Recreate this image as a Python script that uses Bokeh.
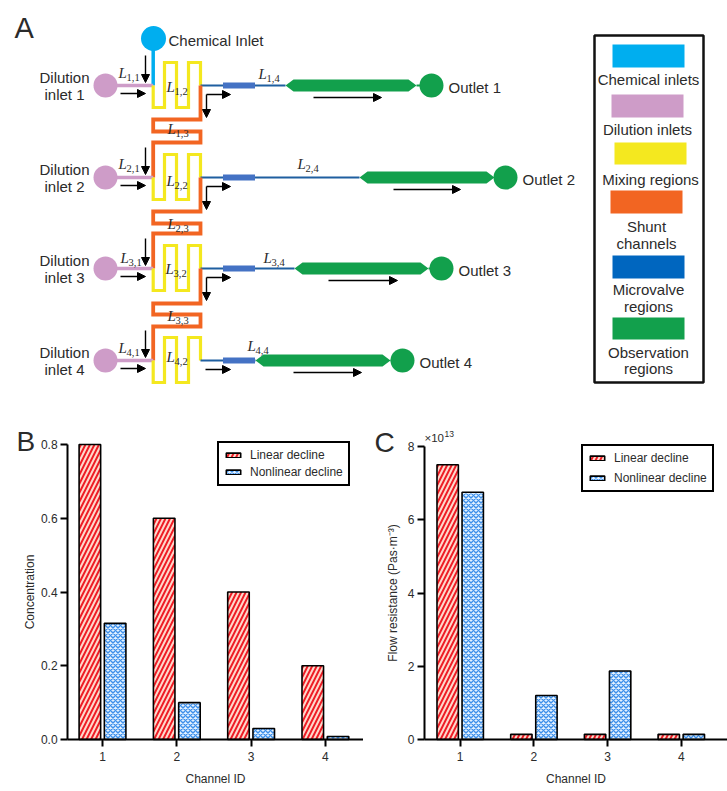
import numpy as np
from bokeh.plotting import figure
from bokeh.layouts import column, row
from bokeh.models import (Range1d, ColumnDataSource, Arrow, NormalHead, Label, Legend, LegendItem,
                          FixedTicker, NumeralTickFormatter)
from bokeh.core.properties import value
from bokeh.embed import file_html
from bokeh.resources import INLINE

FONT = "Liberation Sans"
INK = "#2b2b2b"
C_CHEM, C_DIL, C_MIX, C_SHUNT, C_LINE, C_VALVE, C_OBS = "#00AEEF", "#CE9CC8", "#F4E81F", "#F26522", "#1F5FA0", "#4472C4", "#12A04C"

# ---------------- bar chart data ----------------
channels = [1, 2, 3, 4]
conc_linear = [0.8, 0.6, 0.4, 0.2]
conc_nonlinear = [0.315, 0.1, 0.03, 0.008]
res_linear = [7.5, 0.14, 0.14, 0.14]
res_nonlinear = [6.75, 1.2, 1.87, 0.14]
series_names = ["Linear decline", "Nonlinear decline"]

# ---------------- schematic data (page pixels) ----------------
row_y = [85, 177, 268, 360]
outlet_tip = [285, 359, 294, 255]
outlet_end = [416, 494, 428, 390]
outlet_cx = [431, 505, 441, 402]
flow_arrow_x0 = [313, 393, 328, 293]
flow_arrow_x1 = [381, 460, 397, 361]
shunt_offsets = [(119, 131, 142), (211, 223, 233), (303, 314, 326)]
dilution_names = ["Dilution\ninlet 1", "Dilution\ninlet 2", "Dilution\ninlet 3", "Dilution\ninlet 4"]
outlet_names = ["Outlet 1", "Outlet 2", "Outlet 3", "Outlet 4"]
L_labels = [("1,1", 118, 72), ("1,2", 166, 86), ("1,3", 167, 128), ("1,4", 258, 73),
            ("2,1", 118, 163), ("2,2", 166, 180), ("2,3", 167, 223), ("2,4", 297, 163),
            ("3,1", 120, 257), ("3,2", 165, 268), ("3,3", 167, 315), ("3,4", 263, 257),
            ("4,1", 118, 347), ("4,2", 166, 356), ("4,4", 247, 345)]
key_entries = [(44, 67, C_CHEM, ["Chemical inlets"], [79], 648),
               (94, 117, C_DIL, ["Dilution inlets"], [129], 647),
               (142, 164, C_MIX, ["Mixing regions"], [179], 650),
               (190, 213, C_SHUNT, ["Shunt", "channels"], [226, 243], 646),
               (255, 278, "#0066BF", ["Microvalve", "regions"], [289, 306], 648),
               (317, 339, C_OBS, ["Observation", "regions"], [352, 368], 648)]

# ---------------- schematic ----------------
s = figure(width=727, height=415, x_range=Range1d(0, 727), y_range=Range1d(415, 0),
           output_backend="svg", toolbar_location=None, min_border=0, outline_line_color=None)
s.axis.visible = False
s.grid.visible = False


def put_text(fig, x, y, txt, size="15px", align="left", font=FONT, style="normal", color=INK):
    fig.text(x=[x], y=[y], text=[txt], text_font=value(font), text_font_size=value(size),
             text_align=align, text_baseline="middle", text_color=color, text_font_style=style)


def path(xs, ys, color, w):
    s.line(xs, ys, line_color=color, line_width=w, line_join="miter", line_cap="butt")


xl, xr = 152.7, 200
arrows = {"x0": [], "y0": [], "x1": [], "y1": []}


def add_arrow(x0, y0, x1, y1):
    arrows["x0"].append(x0); arrows["y0"].append(y0); arrows["x1"].append(x1); arrows["y1"].append(y1)


path([xl, xl], [38, 85], C_CHEM, 3.5)
s.circle([153], [38], radius=12.5, fill_color=C_CHEM, line_color=None)
put_text(s, 168, 40, "Chemical Inlet")

for i, y in enumerate(row_y):
    path([105, xl], [y, y], C_DIL, 3.5)
    s.circle([105], [y], radius=12, fill_color=C_DIL, line_color=None)
    a, b_ = dilution_names[i].split("\n")
    put_text(s, 64, y - 8, a, align="center")
    put_text(s, 64, y + 9, b_, align="center")
    top, bot = y - 23, y + 22
    path([xl, xl, 164, 164, 176, 176, 188, 188, xr, xr], [y, bot, bot, top, top, bot, bot, top, top, y], C_MIX, 3.2)
    path([xr, outlet_tip[i]], [y, y], C_LINE, 2)
    path([222.5, 254.5], [y, y], C_VALVE, 6)
    t, e = outlet_tip[i], outlet_end[i]
    s.patch([t, t + 8, e - 8, e, e - 8, t + 8], [y, y - 6, y - 6, y, y + 6, y + 6], fill_color=C_OBS, line_color=None)
    path([e, outlet_cx[i]], [y, y], C_OBS, 2)
    s.circle([outlet_cx[i]], [y], radius=12, fill_color=C_OBS, line_color=None)
    put_text(s, outlet_cx[i] + 17, y + 2, outlet_names[i])
    add_arrow(145, y - 30, 145, y - 3)
    add_arrow(120, y + 8, 145, y + 8)
    add_arrow(flow_arrow_x0[i], y + 12, flow_arrow_x1[i], y + 12)
    if i < 3:
        s1, s2, s3 = shunt_offsets[i]
        path([xr, xr, xl, xl, xr, xr, xl, xl], [y, s1, s1, s2, s2, s3, s3, row_y[i + 1]], C_SHUNT, 3.8)
        add_arrow(206, y + 9, 230, y + 9)
        add_arrow(206, y + 9, 206, y + 32)
    else:
        add_arrow(205, y + 9, 230, y + 9)

for name, x, y in L_labels:
    put_text(s, x, y, "L", size="15px", font="Liberation Serif", style="italic")
    put_text(s, x + 8, y + 5, name, size="10.5px", font="Liberation Serif")

s.add_layout(Arrow(end=NormalHead(size=8, fill_color="black", line_color="black", line_width=1), line_width=1.4,
                   x_start="x0", y_start="y0", x_end="x1", y_end="y1", source=ColumnDataSource(arrows)))

s.quad(left=[594], right=[703], top=[35], bottom=[382], fill_color="white", line_color="#111111", line_width=2.5)
for y0, y1, col, lines, ys, cx in key_entries:
    s.quad(left=[cx - 36], right=[cx + 36], top=[y0], bottom=[y1], fill_color=col, line_color=None)
    for line, ty in zip(lines, ys):
        put_text(s, cx, ty, line, align="center")
put_text(s, 14, 27, "A", size="29px")


# ---------------- bar panels ----------------
# Every panel's plotting frame fills its canvas; the axes are pinned inside it.
def bars(width, xlim, ylim, ax_x, y_top, y_ticks, fmt, ylabel, linear, nonlinear, standoff, leg_xy, leg_spacing, letter, letter_xy):
    p = figure(width=width, height=370, x_range=Range1d(*xlim), y_range=Range1d(*ylim),
               output_backend="svg", toolbar_location=None, min_border=0, outline_line_color=None)
    p.grid.visible = False
    x = np.array(channels, dtype=float)
    r1 = p.vbar(x=x - 0.17, top=linear, width=0.29, bottom=0, fill_color="#EE1C25", line_color="black", line_width=1.6,
                hatch_pattern="right_diagonal_line", hatch_color="#FFD9CC", hatch_scale=9, hatch_weight=2)
    r2 = p.vbar(x=x + 0.17, top=nonlinear, width=0.29, bottom=0, fill_color="#E3F1FF", line_color="black", line_width=1.6,
                hatch_pattern="diagonal_cross", hatch_color="#3C8FEA", hatch_scale=5, hatch_weight=1.4)
    for ax in (p.xaxis[0], p.yaxis[0]):
        ax.axis_line_width = 2
        ax.axis_line_color = "black"
        ax.major_tick_line_width = 2
        ax.major_tick_line_color = "black"
        ax.major_tick_out = 7
        ax.major_tick_in = 0
        ax.minor_tick_line_color = None
        ax.major_label_text_font = FONT
        ax.major_label_text_font_size = "12px"
        ax.major_label_text_color = INK
        ax.axis_label_text_font = FONT
        ax.axis_label_text_font_size = "12px"
        ax.axis_label_text_font_style = "normal"
        ax.axis_label_text_color = INK
    p.xaxis.ticker = FixedTicker(ticks=channels)
    p.xaxis.axis_label = "Channel ID"
    p.xaxis.axis_label_standoff = 8
    p.xaxis.major_label_standoff = 5
    p.xaxis.fixed_location = 0
    p.xaxis.bounds = (ax_x, xlim[1])
    p.yaxis.ticker = FixedTicker(ticks=y_ticks)
    p.yaxis.bounds = (0, y_top)
    p.yaxis.fixed_location = ax_x
    p.yaxis.formatter = NumeralTickFormatter(format=fmt)
    p.yaxis.axis_label = ylabel
    p.yaxis.axis_label_standoff = standoff
    p.yaxis.major_label_standoff = 3
    leg = Legend(items=[LegendItem(label=series_names[0], renderers=[r1]), LegendItem(label=series_names[1], renderers=[r2])],
                 location=leg_xy, border_line_color="black", border_line_alpha=1, border_line_width=2, padding=5, margin=0,
                 spacing=leg_spacing, glyph_width=18, glyph_height=6, label_height=14, label_standoff=8, label_width=93,
                 label_text_font=FONT, label_text_font_size="12px", label_text_color=INK, background_fill_alpha=1)
    p.add_layout(leg, "center")
    p.add_layout(Label(x=letter_xy[0], y=letter_xy[1], x_units="screen", y_units="screen", text=letter, text_font=FONT,
                       text_font_size="28px", text_color=INK, text_baseline="middle"))
    return p


b = bars(363, (1 - 102 / 74.3, 1 + 261 / 74.3), (-46 * 0.8 / 295, 324 * 0.8 / 295), 0.53, 0.8,
         [0, 0.2, 0.4, 0.6, 0.8], "0.0", "Concentration",
         conc_linear, conc_nonlinear, 1, (217, 299), 3, "B", (16, 344))
c = bars(364, (1 - 96.7 / 73.7, 1 + 267.3 / 73.7), (-46 * 8 / 293, 324 * 8 / 293), 0.516, 8,
         [0, 2, 4, 6, 8], "0", "Flow resistance (Pas\u00b7m\u207b\u00b3)",
         res_linear, res_nonlinear, 5, (218, 293), 6, "C", (11, 343))
c.add_layout(Label(x=61, y=348, x_units="screen", y_units="screen", text="\u00d710", text_font=FONT,
                   text_font_size="11.5px", text_color=INK, text_baseline="middle"))
c.add_layout(Label(x=81, y=352, x_units="screen", y_units="screen", text="13", text_font=FONT,
                   text_font_size="8.5px", text_color=INK, text_baseline="middle"))

page = column(s, row(b, c, spacing=0), spacing=0)
open("out.html", "w").write(file_html(page, INLINE))
